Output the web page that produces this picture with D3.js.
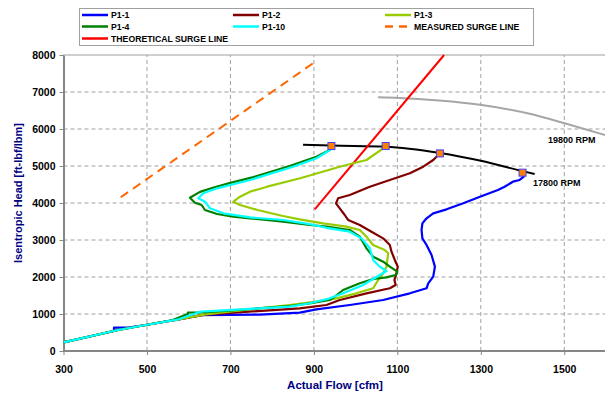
<!DOCTYPE html>
<html>
<head>
<meta charset="utf-8">
<script src="https://cdn.jsdelivr.net/npm/d3@7/dist/d3.min.js"></script>
<style>
  html, body { margin: 0; padding: 0; background: #fff; }
  svg { display: block; font-family: "Liberation Sans", Arial, sans-serif; }
</style>
</head>
<body>
<svg id="chart" width="605" height="393"></svg>
<script>
// Flow [cfm] / isentropic head [ft-lbf/lbm] pairs for each surge run
const p1_1 = [[300,235],[421,540],[421,630],[455,630],[500,710],[576,857],[630,970],[771,985],[866,1036],[906,1126],[986,1243],[1066,1378],[1130,1559],[1170,1695],[1174,1829],[1186,2009],[1190,2279],[1182,2595],[1170,2865],[1160,3045],[1158,3270],[1160,3450],[1170,3586],[1186,3721],[1218,3829],[1258,3991],[1298,4171],[1341,4351],[1357,4441],[1377,4576],[1393,4622],[1403,4710],[1400,4820]];
const p1_2 = [[300,235],[428,560],[500,710],[576,857],[640,985],[866,1153],[930,1243],[962,1378],[1026,1559],[1082,1695],[1096,1784],[1093,1919],[1098,2100],[1101,2279],[1094,2459],[1086,2684],[1082,2865],[1066,3045],[1038,3225],[1010,3405],[982,3541],[974,3676],[962,3857],[953,3991],[958,4127],[986,4216],[1034,4441],[1082,4622],[1130,4802],[1162,4982],[1186,5162],[1194,5252],[1202,5340]];
const p1_3 = [[300,235],[428,560],[500,710],[576,857],[640,990],[842,1243],[906,1333],[954,1424],[1002,1559],[1042,1695],[1054,1919],[1066,2100],[1074,2279],[1078,2640],[1070,2730],[1042,2865],[1026,3090],[1010,3270],[978,3360],[922,3450],[866,3559],[826,3649],[765,3811],[723,3946],[707,4036],[723,4171],[747,4306],[788,4441],[867,4668],[962,4981],[1026,5162],[1066,5478],[1072,5540]];
const p1_4 = [[300,235],[428,560],[500,710],[560,830],[598,1000],[598,1040],[636,1040],[842,1216],[890,1288],[938,1378],[950,1468],[970,1649],[1010,1829],[1042,1946],[1074,1990],[1096,2054],[1100,2144],[1082,2279],[1066,2415],[1042,2550],[1026,2775],[1010,3090],[986,3270],[930,3360],[890,3405],[826,3495],[747,3586],[707,3630],[668,3703],[639,3811],[631,3946],[615,4009],[603,4140],[627,4300],[660,4420],[700,4545],[755,4700],[842,5000],[906,5250],[938,5430],[942,5540]];
const p1_10 = [[300,235],[428,560],[500,710],[576,857],[628,1062],[842,1200],[890,1290],[938,1424],[970,1559],[1018,1784],[1042,1946],[1058,2054],[1074,2162],[1058,2279],[1042,2459],[1034,2775],[1014,3045],[986,3225],[930,3330],[890,3430],[826,3540],[747,3610],[683,3721],[651,3857],[639,4036],[623,4127],[635,4262],[668,4397],[747,4622],[850,4981],[906,5211],[938,5424],[942,5530]];

// Speed lines and surge lines
const speed17800 = [[874,5576],[942,5552],[1072,5522],[1202,5352],[1300,5140],[1400,4862],[1429,4784]];
const speed19800 = [[1054,6857],[1106,6840],[1200,6770],[1298,6655],[1425,6390],[1505,6140],[1600,5830]];
const theoreticalSurge = [[902,3830],[1212,8000]];
const measuredSurge = [[437,4154],[898,7776]];

// Axis ticks
const xTicks = [300,500,700,900,1100,1300,1500];
const yTicks = [0,1000,2000,3000,4000,5000,6000,7000,8000];

const seriesNames = ["P1-1","P1-2","P1-3","P1-4","P1-10"];
const seriesData = [p1_1, p1_2, p1_3, p1_4, p1_10];
const seriesColors = ["#0000FF","#800000","#99CC00","#008000","#00FFFF"];

const svg = d3.select("#chart");
const x = d3.scaleLinear().domain([300,1600]).range([63.5,606]);
const y = d3.scaleLinear().domain([0,8000]).range([351,55]);

// gridlines
const grid = svg.append("g");
grid.selectAll("line.h").data(yTicks.filter(v => v > 0 && v < 8000)).join("line")
  .attr("x1", x(300)).attr("x2", x(1600))
  .attr("y1", d => y(d)).attr("y2", d => y(d))
  .attr("stroke", "#A0A0A0").attr("stroke-width", 1).attr("stroke-dasharray", "4,3");
grid.selectAll("line.v").data(xTicks.filter(v => v > 300)).join("line")
  .attr("x1", d => x(d)).attr("x2", d => x(d))
  .attr("y1", y(0)).attr("y2", y(8000))
  .attr("stroke", "#A0A0A0").attr("stroke-width", 1).attr("stroke-dasharray", "4,3");

// plot border
svg.append("rect").attr("x", x(300)).attr("y", y(8000))
  .attr("width", x(1600) - x(300)).attr("height", y(0) - y(8000))
  .attr("fill", "none").attr("stroke", "#A0A0A0").attr("stroke-width", 1);

// axes
const fmt = d3.format("d");
const yAxis = svg.append("g").attr("transform", `translate(${x(300)},0)`)
  .call(d3.axisLeft(y).tickValues(yTicks).tickFormat(fmt).tickSize(4).tickSizeOuter(0).tickPadding(4));
const xAxis = svg.append("g").attr("transform", `translate(0,${y(0)})`)
  .call(d3.axisBottom(x).tickValues(xTicks).tickFormat(fmt).tickSize(4).tickSizeOuter(0).tickPadding(11));
[xAxis, yAxis].forEach(a => {
  a.select(".domain").attr("stroke", "#868686").attr("stroke-width", 2);
  a.selectAll(".tick line").attr("stroke", "#868686").attr("stroke-width", 1);
  a.selectAll(".tick text").attr("fill", "#000").attr("font-size", "10.5px")
    .attr("font-weight", "bold").attr("font-family", "Liberation Sans, Arial, sans-serif");
});
xAxis.select(".domain").attr("d", `M${x(300)},0H${x(1600)}`);

// axis titles
svg.append("text").attr("x", 335).attr("y", 389).attr("text-anchor", "middle")
  .attr("font-size", "11.5px").attr("font-weight", "bold").attr("fill", "#000080")
  .text("Actual Flow [cfm]");
svg.append("text").attr("transform", "translate(22,193) rotate(-90)").attr("text-anchor", "middle")
  .attr("font-size", "11px").attr("font-weight", "bold").attr("fill", "#000080")
  .text("Isentropic Head [ft-lbf/lbm]");

const line = d3.line().x(d => x(d[0])).y(d => y(d[1]));
const smooth = d3.line().x(d => x(d[0])).y(d => y(d[1])).curve(d3.curveMonotoneX);

// speed lines
svg.append("path").attr("d", smooth(speed19800)).attr("fill", "none")
  .attr("stroke", "#A6A6A6").attr("stroke-width", 2);
svg.append("path").attr("d", smooth(speed17800)).attr("fill", "none")
  .attr("stroke", "#000").attr("stroke-width", 2);

// surge lines
svg.append("path").attr("d", line(theoreticalSurge)).attr("fill", "none")
  .attr("stroke", "#FF0000").attr("stroke-width", 2);
svg.append("path").attr("d", line(measuredSurge)).attr("fill", "none")
  .attr("stroke", "#FF6600").attr("stroke-width", 2).attr("stroke-dasharray", "9,6");

// run curves
seriesData.forEach((s, i) => {
  svg.append("path").attr("d", line(s)).attr("fill", "none")
    .attr("stroke", seriesColors[i]).attr("stroke-width", 2.2)
    .attr("stroke-linejoin", "round");
});

// surge onset markers at the end of each run
const onset = [p1_1, p1_2, p1_3, p1_4].map(s => s[s.length - 1]);
svg.selectAll("rect.onset").data(onset).join("rect")
  .attr("x", d => x(d[0]) - 3.5).attr("y", d => y(d[1]) - 3.5)
  .attr("width", 7).attr("height", 7)
  .attr("fill", "#FF7F00").attr("stroke", "#3F3FFF").attr("stroke-width", 1);

// speed labels
svg.append("text").attr("x", 548).attr("y", 142.5).attr("font-size", "9px")
  .attr("font-weight", "bold").text("19800 RPM");
svg.append("text").attr("x", 533).attr("y", 185.5).attr("font-size", "9px")
  .attr("font-weight", "bold").text("17800 RPM");

// legend
const legend = svg.append("g");
legend.append("rect").attr("x", 79.5).attr("y", 8.5).attr("width", 454).attr("height", 37)
  .attr("fill", "#fff").attr("stroke", "#A0A0A0").attr("stroke-width", 1);
const legendItems = [
  {name: "P1-1", color: seriesColors[0], col: 0, row: 0},
  {name: "P1-2", color: seriesColors[1], col: 1, row: 0},
  {name: "P1-3", color: seriesColors[2], col: 2, row: 0},
  {name: "P1-4", color: seriesColors[3], col: 0, row: 1},
  {name: "P1-10", color: seriesColors[4], col: 1, row: 1},
  {name: "MEASURED SURGE LINE", color: "#FF6600", col: 2, row: 1, dash: "8,6"},
  {name: "THEORETICAL SURGE LINE", color: "#FF0000", col: 0, row: 2}
];
const colX = [82, 233, 385];
const rowY = [15, 26.5, 38.5];
legendItems.forEach(it => {
  const lx = colX[it.col], ly = rowY[it.row];
  legend.append("line").attr("x1", lx).attr("x2", lx + 26).attr("y1", ly).attr("y2", ly)
    .attr("stroke", it.color).attr("stroke-width", 2.5)
    .attr("stroke-dasharray", it.dash || null);
  legend.append("text").attr("x", lx + 29).attr("y", ly + 3.2)
    .attr("font-size", "8.7px").attr("font-weight", "bold").text(it.name);
});
</script>
</body>
</html>
